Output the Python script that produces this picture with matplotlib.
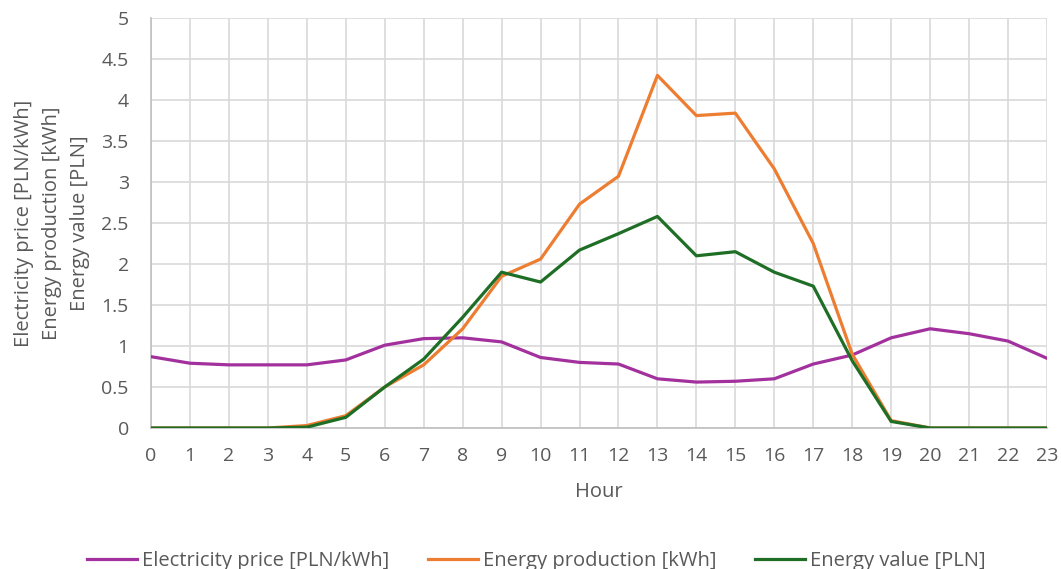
import matplotlib
matplotlib.use("Agg")
import matplotlib.pyplot as plt
from matplotlib.ticker import MultipleLocator, FuncFormatter

hours = list(range(24))
price = [0.87, 0.79, 0.77, 0.77, 0.77, 0.83, 1.01, 1.09, 1.10, 1.05, 0.86, 0.80,
         0.78, 0.60, 0.56, 0.57, 0.60, 0.78, 0.89, 1.10, 1.21, 1.15, 1.06, 0.85]
production = [0, 0, 0, 0, 0.03, 0.15, 0.50, 0.77, 1.21, 1.85, 2.06, 2.73,
              3.07, 4.30, 3.81, 3.84, 3.16, 2.25, 0.90, 0.09, 0, 0, 0, 0]
value = [0, 0, 0, 0, 0.01, 0.13, 0.50, 0.84, 1.35, 1.90, 1.78, 2.17,
         2.37, 2.58, 2.10, 2.15, 1.90, 1.73, 0.82, 0.08, 0, 0, 0, 0]
labels = ["Electricity price [PLN/kWh]", "Energy production [kWh]", "Energy value [PLN]"]
colors = ["#A2319D", "#ED7D31", "#1F6E25"]

plt.rcParams['font.family'] = ['Open Sans', 'DejaVu Sans']
txt = "#595959"

fig = plt.figure(figsize=(10.61, 5.69), dpi=100)
ax = fig.add_axes([151/1061, 1 - 428/569, (1047-151)/1061, (428-18)/569])

for y, lab, c in zip([price, production, value], labels, colors):
    ax.plot(hours, y, color=c, lw=2.3, label=lab, solid_joinstyle='round', zorder=3)

ax.set_xlim(0, 23)
ax.set_ylim(0, 5)
ax.xaxis.set_major_locator(MultipleLocator(1))
ax.yaxis.set_major_locator(MultipleLocator(0.5))
ax.yaxis.set_major_formatter(FuncFormatter(lambda v, p: f"{v:g}"))
ax.grid(True, color="#D9D9D9", lw=1.2, zorder=0)
for s in ["top", "right"]:
    ax.spines[s].set_visible(False)
for s in ["left", "bottom"]:
    ax.spines[s].set_color("#BFBFBF")
    ax.spines[s].set_linewidth(1.2)
ax.tick_params(length=0, labelsize=14, colors=txt)
ax.tick_params(axis='x', pad=14)
ax.tick_params(axis='y', pad=16)
ax.set_xlabel("Hour", fontsize=14.5, color=txt, labelpad=12)
ax.set_ylabel("Electricity price [PLN/kWh]\nEnergy production [kWh]\nEnergy value [PLN]",
              fontsize=14.5, color=txt, labelpad=8, linespacing=1.55)

fig.legend(loc="lower center", bbox_to_anchor=(0.5 + 6/1061, -0.035), ncol=3, frameon=False,
           fontsize=14.5, labelcolor=txt, handlelength=2.5, handletextpad=0.25,
           columnspacing=1.9)

fig.savefig("out.png", dpi=100)
